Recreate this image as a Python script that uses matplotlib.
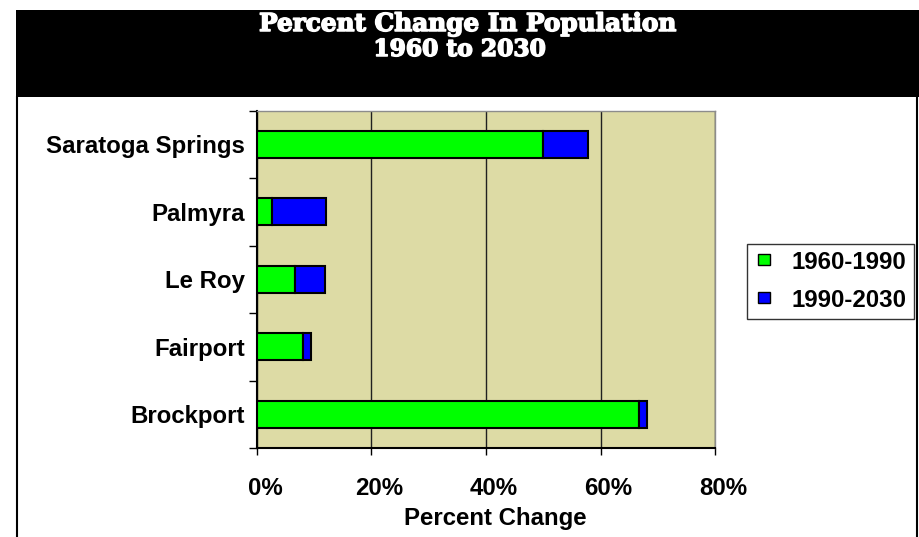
import matplotlib
matplotlib.use("Agg")
import matplotlib.pyplot as plt
import matplotlib.patheffects as pe
from matplotlib.patches import Rectangle, Patch
from matplotlib.lines import Line2D
from matplotlib.transforms import ScaledTranslation
from matplotlib.legend_handler import HandlerPatch

# Data: percent population change by community
cities = ["Saratoga Springs", "Palmyra", "Le Roy", "Fairport", "Brockport"]
change_1960_1990 = [49.9, 2.6, 6.6, 8.0, 66.7]
change_1990_2030 = [7.9, 9.4, 5.2, 1.4, 1.4]
period_labels = ["1960-1990", "1990-2030"]
x_ticks = [0, 20, 40, 60, 80]
x_tick_labels = ["0%", "20%", "40%", "60%", "80%"]

W, H = 920, 537
DPI = 100
fig = plt.figure(figsize=(W / DPI, H / DPI), dpi=DPI)
fig.patch.set_facecolor("white")

def fx(px):
    return px / W

def fy(py):
    return 1 - py / H

# Title band and frame
fig.add_artist(Rectangle((fx(16), fy(97)), fx(920) - fx(16), fy(10) - fy(97),
                         transform=fig.transFigure, facecolor="black",
                         edgecolor="none", zorder=0))
for xp in (17, 917):
    fig.add_artist(Line2D([fx(xp), fx(xp)], [fy(97), 0], transform=fig.transFigure,
                          color="black", lw=1.5))

title_font = dict(family="DejaVu Serif", weight="heavy", color="white",
                  ha="center", va="baseline",
                  path_effects=[pe.withStroke(linewidth=1.1, foreground="white")])
fig.text(fx(468), fy(31), "Percent Change In Population", size=17.8, **title_font)
fig.text(fx(460), fy(56), "1960 to 2030", size=16.8, **title_font)

# Plot area
ax = fig.add_axes([fx(257), fy(448), fx(715) - fx(257), fy(110.5) - fy(448)])
ax.set_facecolor("#DDDBA5")

ypos = list(range(len(cities)))
ax.barh(ypos, change_1960_1990, height=0.4, color="#00FF00",
        edgecolor="black", linewidth=1.5, zorder=3)
ax.barh(ypos, change_1990_2030, left=change_1960_1990, height=0.4,
        color="#0000FF", edgecolor="black", linewidth=1.5, zorder=3)

ax.set_xlim(0, 80)
ax.set_ylim(len(cities) - 0.5, -0.5)

lab_font = dict(family="Liberation Sans", weight="bold", size=17.3)

ax.set_xticks(x_ticks)
ax.set_xticklabels(x_tick_labels, **lab_font)
ax.set_yticks(ypos)
ax.set_yticklabels(cities, **lab_font)
ax.set_yticks([i - 0.5 for i in range(len(cities) + 1)], minor=True)

ax.tick_params(axis="y", which="major", length=0, pad=8.6)
ax.tick_params(axis="y", which="minor", length=5.8, width=1, direction="out", color="black")
ax.tick_params(axis="x", which="major", length=5, width=1, direction="out",
               color="black", pad=16)

offset = ScaledTranslation(8 / DPI, 0, fig.dpi_scale_trans)
for lbl in ax.get_xticklabels():
    lbl.set_transform(lbl.get_transform() + offset)

ax.xaxis.grid(True, color="#202020", linewidth=1, zorder=1)
ax.set_axisbelow(True)

for side in ("left", "bottom"):
    ax.spines[side].set_color("black")
    ax.spines[side].set_linewidth(1.5)
for side in ("top", "right"):
    ax.spines[side].set_color("#8C8C8C")
    ax.spines[side].set_linewidth(1)

fig.text(fx(495), fy(518), "Percent Change", ha="center", va="center", **lab_font)


# Legend: small square swatches placed at the right end of the handle slot
def square_swatch(legend, orig_handle, xdescent, ydescent, width, height, fontsize):
    s = 8.0  # points
    return Rectangle((-xdescent + width - s, -ydescent + (height - s) / 2 + 0.5), s, s)


handles = [Patch(facecolor="#00FF00", edgecolor="black", linewidth=1),
           Patch(facecolor="#0000FF", edgecolor="black", linewidth=1)]
leg = fig.legend(handles, period_labels, loc="upper left",
                 bbox_to_anchor=(fx(747), fy(243.5)), bbox_transform=fig.transFigure,
                 prop=dict(family="Liberation Sans", weight="bold", size=17.3),
                 frameon=True, fancybox=False, shadow=False,
                 handlelength=0.64, handleheight=0.7, handletextpad=0.92,
                 borderpad=0.3, labelspacing=0.62, borderaxespad=0,
                 handler_map={Patch: HandlerPatch(patch_func=square_swatch)})
leg.get_frame().set_edgecolor("black")
leg.get_frame().set_linewidth(1)

fig.savefig("out.png", dpi=DPI)
